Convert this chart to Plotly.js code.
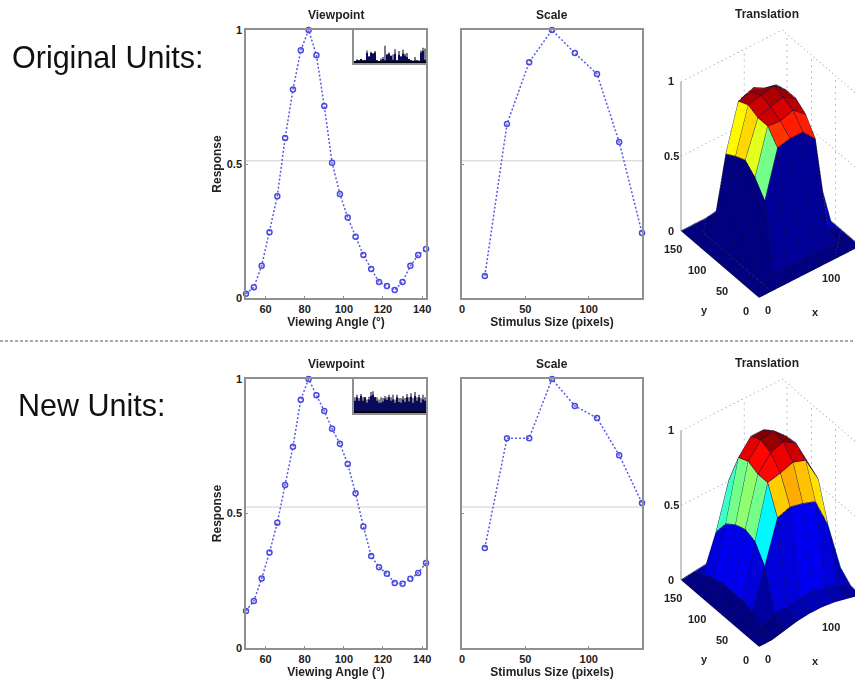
<!DOCTYPE html>
<html>
<head>
<meta charset="utf-8">
<script src="https://cdn.plot.ly/plotly-3.0.1.min.js"></script>
<style>html,body{margin:0;padding:0;background:#fff;overflow:hidden}</style>
</head>
<body>
<div id="chart" style="width:855px;height:683px"></div>
<script>
const W = 855, H = 683;

// ---- data ----
const viewAngles = [50,54,58,62,66,70,74,78,82,86,90,94,98,102,106,110,114,118,122,126,130,134,138,142];
const viewOriginal = [.016,.04,.12,.245,.38,.597,.778,.924,1,.906,.716,.505,.388,.3,.229,.16,.108,.06,.045,.03,.06,.12,.16,.183];
const viewNew = [.138,.175,.258,.355,.466,.606,.748,.923,1,.94,.881,.815,.759,.684,.575,.452,.342,.3,.276,.242,.239,.257,.279,.316];
const stimSizes = [18,35.5,53,71,89,106.5,124,142];
const scaleOriginal = [.082,.649,.88,1,.914,.836,.582,.243];
const scaleNew = [.372,.78,.78,1,.90,.855,.717,.539];
const thresholdOriginal = 0.512;
const thresholdNew = 0.524;
const insetBins = [1,2,3,4,5,6,7,8,9,10,11,12,13,14,15,16,17,18,19,20,21,22,23,24,25,26,27,28,29,30,31,32,33,34,35,36];
const insetOriginalNavy = [.06,.1,.08,.12,.08,.08,.3,.2,.3,.28,.32,.08,.06,.08,.12,.08,.26,.28,.22,.1,.28,.08,.24,.2,.28,.22,.18,.12,.08,.07,.08,.08,.07,.32,.36,.1];
const insetOriginalSpike = [.06,.1,.08,.12,.08,.1,.38,.2,.34,.3,.36,.08,.06,.14,.18,.52,.26,.32,.22,.26,.42,.08,.36,.2,.4,.28,.3,.12,.08,.07,.18,.08,.07,.38,.46,.44];
const insetNewNavy = [.36,.46,.36,.5,.36,.46,.3,.4,.5,.54,.46,.36,.3,.3,.34,.42,.38,.46,.36,.4,.3,.46,.32,.3,.4,.32,.46,.34,.48,.3,.5,.36,.46,.3,.4,.36];
const insetNewSpike = [.46,.54,.44,.56,.46,.46,.4,.48,.62,.64,.46,.46,.4,.46,.44,.5,.46,.54,.46,.54,.4,.54,.44,.44,.5,.44,.56,.46,.58,.44,.62,.46,.54,.44,.54,.46];

const gridX = [0,20,40,60,80,100,120,140,160];
const gridY = [0,20,40,60,80,100,120,140,160];
const surfaceOriginal = [
 [0,0,0,0,0,0,0,0,0],
 [0,0,.02,.02,.02,.02,.02,0,0],
 [0,0,.45,.76,.78,.78,.69,.05,0],
 [0,0,.55,.85,.84,.87,.8,.35,0],
 [0,0,.61,.85,.88,.9,.85,.65,0],
 [0,0,.58,.88,.9,.92,.85,.68,0],
 [0,0,.54,.85,.87,.85,.83,.55,0],
 [0,0,.1,.5,.77,.8,.75,.1,0],
 [0,0,0,0,0,0,0,0,0]
];
const surfaceNew = [
 [0,0,.02,.04,.05,.05,.04,.02,0],
 [0,.03,.08,.08,.1,.1,.08,.05,.01],
 [0,.08,.34,.62,.65,.63,.6,.4,.07],
 [0,.1,.45,.8,.82,.85,.82,.65,.05],
 [0,.1,.475,.8,.9,.93,.88,.7,.05],
 [0,.1,.45,.83,.93,.95,.87,.65,.05],
 [0,.08,.4,.8,.9,.9,.84,.55,.04],
 [0,.05,.29,.59,.65,.68,.6,.35,.02],
 [0,.01,.02,.2,.2,.2,.15,.05,0]
];
const xTicks3d = [0,100];
const yTicks3d = [0,50,100,150];
const zTicks3d = [0,0.5,1];
const wallX = [100];
const wallY = [50,100,150];
const boxEnd = 160;

// ---- helpers ----
const BOLD = 'Liberation Sans';
const GRAY = '#909090';
const BLUE = '#4a4ae0';
const fx = p => p / W;
const fy = p => 1 - p / H;
const domX = (a,b) => [fx(a), fx(b)];
const domY = (top,bot) => [fy(bot), fy(top)];

function jet(v){
  v = Math.max(0, Math.min(1, v));
  const c = t => Math.round(255*Math.max(0, Math.min(1, 1.5 - Math.abs(4*v - t))));
  return `rgb(${c(3)},${c(2)},${c(1)})`;
}

const layout = {
  width: W, height: H, showlegend: false,
  margin: {l:0,r:0,t:0,b:0}, paper_bgcolor:'#fff', plot_bgcolor:'#fff',
  barmode:'overlay', bargap:.25,
  font:{family:BOLD, color:'#222'},
  annotations: [], shapes: []
};
const data = [];

function axisStyle(extra){
  return Object.assign({
    showline:true, mirror:true, linecolor:GRAY, linewidth:1.5,
    ticks:'inside', ticklen:2.5, tickwidth:1, tickcolor:GRAY,
    showgrid:false, zeroline:false, fixedrange:true,
    tickfont:{family:BOLD, size:11, color:'#222', weight:700}
  }, extra);
}
function text(x,y,t,size,bold,anchor){
  layout.annotations.push({xref:'paper',yref:'paper',x:fx(x),y:fy(y),text:t,showarrow:false,
    xanchor:anchor||'center',yanchor:'middle',
    font:{family:BOLD,size:size,color:bold?'#222':'#111',weight:bold?700:400}});
}
let axisN = 0;
function addLinePanel(px,top,bot,xs,ys,xr,xtickvals,xtitle,ytitle,threshold,title,showY){
  axisN++;
  const xa = 'xaxis'+axisN, ya = 'yaxis'+axisN, xk='x'+axisN, yk='y'+axisN;
  layout[xa] = axisStyle({domain:domX(px[0],px[1]),range:xr,anchor:yk,tickvals:xtickvals,
    title:{text:xtitle,standoff:3,font:{family:BOLD,size:12,color:'#222',weight:700}}});
  layout[ya] = axisStyle({domain:domY(top,bot),range:[0,1],anchor:xk,tickvals:[0,.5,1],
    ticktext:['0','0.5','1'],showticklabels:showY,
    title:ytitle?{text:ytitle,standoff:3,font:{family:BOLD,size:12,color:'#222',weight:700}}:undefined});
  data.push({type:'scatter',mode:'lines',x:xr,y:[threshold,threshold],xaxis:xk,yaxis:yk,
    line:{color:'#cfcfcf',width:1},hoverinfo:'skip'});
  data.push({type:'scatter',mode:'lines+markers',x:xs,y:ys,xaxis:xk,yaxis:yk,cliponaxis:false,
    line:{color:'#5a5ae6',width:1.5,dash:'2px,2px'},
    marker:{symbol:'circle-open',size:5,color:BLUE,line:{color:BLUE,width:1.5}},hoverinfo:'skip'});
  text((px[0]+px[1])/2,top-15,title,12,true);
}
function addInset(px,top,bot,navy,spike){
  axisN++;
  const xa='xaxis'+axisN, ya='yaxis'+axisN, xk='x'+axisN, yk='y'+axisN;
  layout[xa]={domain:domX(px[0],px[1]),range:[.5,36.5],anchor:yk,showticklabels:false,ticks:'',
    showline:true,mirror:true,linecolor:GRAY,linewidth:1.5,showgrid:false,zeroline:false,fixedrange:true};
  layout[ya]={domain:domY(top,bot),range:[0,1],anchor:xk,showticklabels:false,ticks:'',
    showline:true,mirror:true,linecolor:GRAY,linewidth:1.5,showgrid:false,zeroline:false,fixedrange:true};
  data.push({type:'bar',x:insetBins,y:spike,xaxis:xk,yaxis:yk,marker:{color:'#7c7c86'},hoverinfo:'skip'});
  data.push({type:'bar',x:insetBins,y:navy,xaxis:xk,yaxis:yk,width:1,marker:{color:'#0a0a5a'},hoverinfo:'skip'});
  layout.shapes.push({type:'line',xref:xa.replace('axis',''),yref:ya.replace('axis',''),x0:.5,x1:36.5,y0:.02,y1:.02,line:{color:'#000',width:2},layer:'above'});
}

function addSurface(name,top,bot,matrix){
  const sceneId = name;
  const nx = gridX.length, ny = gridY.length;
  const vx=[],vy=[],vz=[],I=[],J=[],K=[],fc=[];
  for(let j=0;j<ny;j++) for(let i=0;i<nx;i++){ vx.push(gridX[i]); vy.push(gridY[j]); vz.push(matrix[j][i]); }
  const idx=(i,j)=>j*nx+i;
  const CMAX=.92;
  for(let j=0;j<ny-1;j++) for(let i=0;i<nx-1;i++){
    const col=jet(matrix[j][i]/CMAX);
    I.push(idx(i,j),idx(i,j)); J.push(idx(i+1,j),idx(i+1,j+1)); K.push(idx(i+1,j+1),idx(i,j+1));
    fc.push(col,col);
  }
  data.push({type:'mesh3d',scene:sceneId,x:vx,y:vy,z:vz,i:I,j:J,k:K,facecolor:fc,flatshading:true,
    lighting:{ambient:1,diffuse:0,specular:0,roughness:1,fresnel:0},hoverinfo:'skip',showscale:false});
  const lx=[],ly=[],lz=[];
  for(let j=0;j<ny;j++){ for(let i=0;i<nx;i++){lx.push(gridX[i]);ly.push(gridY[j]);lz.push(matrix[j][i]+.003);} lx.push(null);ly.push(null);lz.push(null); }
  for(let i=0;i<nx;i++){ for(let j=0;j<ny;j++){lx.push(gridX[i]);ly.push(gridY[j]);lz.push(matrix[j][i]+.003);} lx.push(null);ly.push(null);lz.push(null); }
  data.push({type:'scatter3d',scene:sceneId,mode:'lines',x:lx,y:ly,z:lz,line:{color:'#10104a',width:1},hoverinfo:'skip'});
  const gx=[],gy=[],gz=[];
  const seg=(a,b)=>{gx.push(a[0],b[0],null);gy.push(a[1],b[1],null);gz.push(a[2],b[2],null);};
  const E=boxEnd;
  seg([0,E,1],[E,E,1]); seg([E,E,1],[E,0,1]);
  seg([0,E,.5],[E,E,.5]); seg([E,E,.5],[E,0,.5]);
  wallX.forEach(v=>seg([v,E,0],[v,E,1]));
  wallY.forEach(v=>seg([E,v,0],[E,v,1]));
  data.push({type:'scatter3d',scene:sceneId,mode:'lines',x:gx,y:gy,z:gz,line:{color:'#808080',width:1,dash:'dot'},hoverinfo:'skip'});
  data.push({type:'scatter3d',scene:sceneId,mode:'lines',x:[0,0],y:[E,E],z:[0,1],line:{color:GRAY,width:2},hoverinfo:'skip'});

  const ann=[];
  const lab=(x,y,z,t,dx,dy)=>ann.push({x,y,z,text:t,showarrow:false,xshift:dx,yshift:dy,
    font:{family:BOLD,size:11,color:'#222',weight:700}});
  zTicks3d.forEach(v=>lab(0,E,v,String(v),-10,0));
  yTicks3d.forEach(v=>lab(0,v,0,String(v),-13,-14));
  xTicks3d.forEach(v=>lab(v,0,0,String(v),9,-13));
  lab(0,60,0,'y',-25,-38);
  lab(80,0,0,'x',6,-40);

  const hidden={visible:false,showgrid:false,zeroline:false,showticklabels:false,showline:false,showbackground:false,showspikes:false};
  const sx=-.021, sy=.016;
  layout[sceneId]={
    domain:{x:[678/W,1],y:domY(top,bot)},
    aspectmode:'manual',aspectratio:{x:.824,y:.824,z:1.285},
    camera:{projection:{type:'orthographic'},eye:{x:-.458*1.58+sx,y:-.593*1.58+sy,z:.66*1.58},center:{x:sx,y:sy,z:0},up:{x:0,y:0,z:1}},
    xaxis:Object.assign({range:[0,E]},hidden),
    yaxis:Object.assign({range:[0,E]},hidden),
    zaxis:Object.assign({range:[0,1]},hidden),
    bgcolor:'#ffffff',
    annotations:ann
  };
}

// ---- panels ----
addLinePanel([246,426],30,298,viewAngles,viewOriginal,[50,142],[60,80,100,120,140],'Viewing Angle (°)','Response',thresholdOriginal,'Viewpoint',true);
addInset([354,426],30,63,insetOriginalNavy,insetOriginalSpike);
addLinePanel([462,642],30,298,stimSizes,scaleOriginal,[0,142],[0,50,100],'Stimulus Size (pixels)',null,thresholdOriginal,'Scale',false);
addLinePanel([246,426],379,648,viewAngles,viewNew,[50,142],[60,80,100,120,140],'Viewing Angle (°)','Response',thresholdNew,'Viewpoint',true);
addInset([354,426],379,413,insetNewNavy,insetNewSpike);
addLinePanel([462,642],379,648,stimSizes,scaleNew,[0,142],[0,50,100],'Stimulus Size (pixels)',null,thresholdNew,'Scale',false);
addSurface('scene',8.5,318.5,surfaceOriginal);
addSurface('scene2',357.5,667.5,surfaceNew);

text(767,14,'Translation',12,true);
text(767,363,'Translation',12,true);
text(10,57,'Original Units:',30.5,false,'left');
text(16,405,'New Units:',30.5,false,'left');
layout.shapes.push({type:'line',xref:'paper',yref:'paper',x0:0,x1:1,y0:fy(341),y1:fy(341),line:{color:'#555',width:1,dash:'3px,2px'}});

Plotly.newPlot('chart',data,layout,{displayModeBar:false});
</script>
</body>
</html>
